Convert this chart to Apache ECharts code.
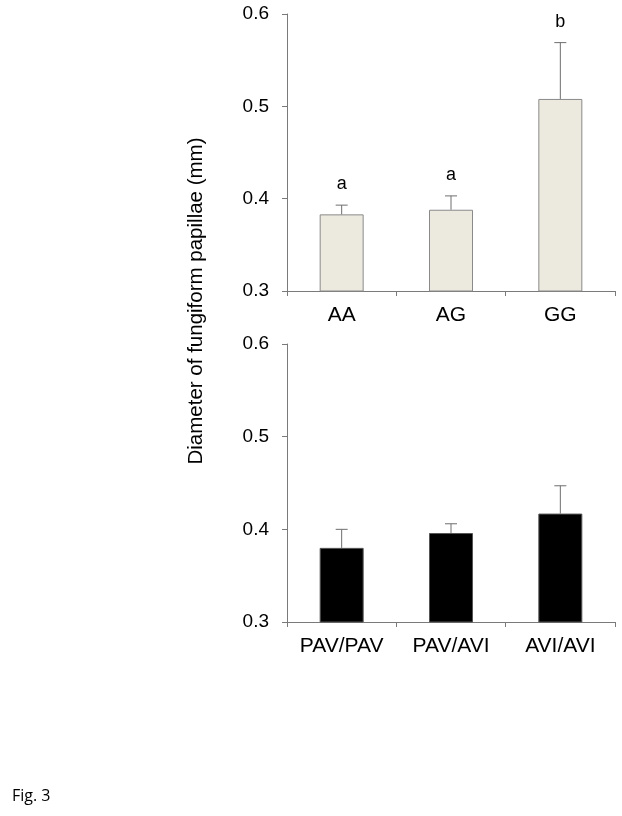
<!DOCTYPE html>
<html><head><meta charset="utf-8">
<script src="https://cdn.jsdelivr.net/npm/echarts@6/dist/echarts.min.js"></script>
<style>html,body{margin:0;padding:0;background:#fff}#c{width:622px;height:816px}</style>
</head><body><div id="c"></div>
<script>
const genotypeCats = ['AA', 'AG', 'GG'];
const genotypeMeans = [0.383, 0.388, 0.508];
const genotypeErrTop = [0.393, 0.403, 0.569];
const genotypeLetters = ['a', 'a', 'b'];
const haploCats = ['PAV/PAV', 'PAV/AVI', 'AVI/AVI'];
const haploMeans = [0.380, 0.396, 0.417];
const haploErrTop = [0.400, 0.406, 0.447];
const yTicks = [0.3, 0.4, 0.5, 0.6];
const yTitle = 'Diameter of fungiform papillae (mm)';
const figLabel = 'Fig. 3';

const chart = echarts.init(document.getElementById('c'), null, {renderer: 'canvas'});
const axisCol = '#7a7a7a';
const font = 'Liberation Sans, Arial, sans-serif';

function yAxis(idx) {
  return {
    gridIndex: idx, type: 'value', min: yTicks[0], max: yTicks[yTicks.length - 1], interval: 0.1,
    axisLine: {show: true, lineStyle: {color: axisCol, width: 1}},
    axisTick: {show: true, length: 5, lineStyle: {color: axisCol}},
    splitLine: {show: false},
    axisLabel: {color: '#000', fontSize: 19, fontFamily: font, margin: 18, formatter: v => v.toFixed(1)}
  };
}
function xAxis(idx, cats) {
  return {
    gridIndex: idx, type: 'category', data: cats, boundaryGap: true,
    axisLine: {show: true, lineStyle: {color: axisCol, width: 1}},
    axisTick: {show: true, length: 5, alignWithLabel: false, lineStyle: {color: axisCol}},
    axisLabel: {color: '#000', fontSize: 21, fontFamily: font, margin: 14}
  };
}
function errSeries(idx, tops, means, letters) {
  return {
    type: 'custom', xAxisIndex: idx, yAxisIndex: idx, z: 5,
    data: tops.map((t, i) => [i, means[i], t]),
    renderItem: function (params, api) {
      const i = api.value(0);
      const p0 = api.coord([i, api.value(1)]);
      const p1 = api.coord([i, api.value(2)]);
      const hw = 6;
      const children = [
        {type: 'line', shape: {x1: p0[0], y1: p0[1], x2: p1[0], y2: p1[1]}, style: {stroke: '#6e6e6e', lineWidth: 1}},
        {type: 'line', shape: {x1: p1[0] - hw, y1: p1[1], x2: p1[0] + hw, y2: p1[1]}, style: {stroke: '#6e6e6e', lineWidth: 1}}
      ];
      if (letters) {
        children.push({type: 'text', style: {text: letters[i], x: p1[0], y: p1[1] - 12, align: 'center', verticalAlign: 'bottom', fontSize: 18, fontFamily: font, fill: '#000'}});
      }
      return {type: 'group', children: children};
    }
  };
}

chart.setOption({
  animation: false,
  grid: [
    {left: 287, top: 14, width: 328, height: 277},
    {left: 287, top: 344, width: 328, height: 278}
  ],
  xAxis: [xAxis(0, genotypeCats), xAxis(1, haploCats)],
  yAxis: [yAxis(0), yAxis(1)],
  series: [
    {type: 'bar', xAxisIndex: 0, yAxisIndex: 0, data: genotypeMeans, barWidth: 44,
     itemStyle: {color: '#ece9df', borderColor: '#8a8a8a', borderWidth: 1}},
    errSeries(0, genotypeErrTop, genotypeMeans, genotypeLetters),
    {type: 'bar', xAxisIndex: 1, yAxisIndex: 1, data: haploMeans, barWidth: 44,
     itemStyle: {color: '#000', borderColor: '#555', borderWidth: 1}},
    errSeries(1, haploErrTop, haploMeans, null)
  ],
  graphic: [
    {type: 'rect', shape: {x: 292, y: 323, width: 330, height: 10}, style: {fill: '#fff'}, z: 100},
    {type: 'text', x: 196, y: 301, rotation: Math.PI / 2, style: {text: yTitle, align: 'center', verticalAlign: 'middle', fontSize: 20.5, fontFamily: font, fill: '#000'}},
    {type: 'text', left: 12, top: 788, style: {text: figLabel, fontSize: 16, fontFamily: 'Open Sans, sans-serif', fill: '#000'}}
  ]
});
</script></body></html>
